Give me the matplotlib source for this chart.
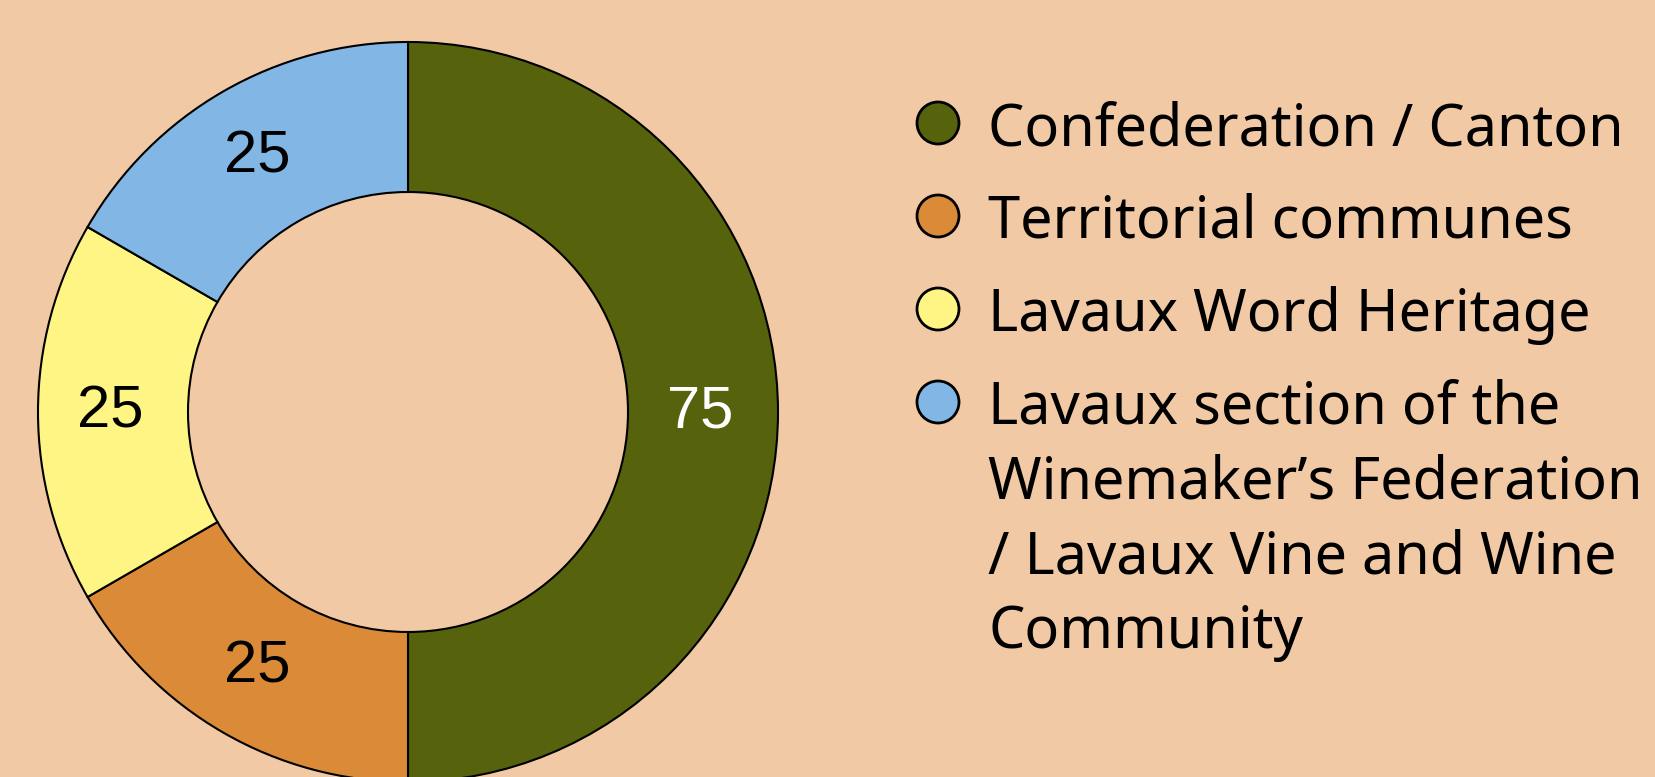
import matplotlib.pyplot as plt

# data
categories = ["Confederation / Canton",
              "Territorial communes",
              "Lavaux Word Heritage",
              "Lavaux section of the\nWinemaker\u2019s Federation\n/ Lavaux Vine and Wine\nCommunity"]
values = [75, 25, 25, 25]
colors = ["#56620c", "#db8a38", "#fff584", "#82b6e5"]
label_colors = ["white", "black", "black", "black"]
bg = "#f1c9a5"

W, H = 1655, 777
fig = plt.figure(figsize=(W / 100, H / 100), dpi=100, facecolor=bg)

# donut, placed in pixel terms (centre and outer radius)
cx, cy, R, r_in = 408, 412, 370, 220
ax = fig.add_axes([(cx - R) / W, (H - cy - R) / H, 2 * R / W, 2 * R / H])
ax.set_facecolor(bg)
wedges, texts = ax.pie(values, colors=colors, startangle=90, counterclock=False,
                       radius=1, labels=[str(v) for v in values],
                       labeldistance=(R + r_in) / 2 / R,
                       wedgeprops=dict(width=(R - r_in) / R, edgecolor="black",
                                       linewidth=1.5),
                       textprops=dict(fontsize=43, family="Liberation Sans"))
for t, c in zip(texts, label_colors):
    x, y = t.get_position()
    t.set_position((x - 3 / R, y))
    t.set_ha("center")
    t.set_va("center")
    t.set_color(c)
ax.set_xlim(-1, 1)
ax.set_ylim(-1, 1)
ax.axis("off")

# legend drawn by hand on a full-figure overlay in pixel units
lax = fig.add_axes([0, 0, 1, 1])
lax.set_xlim(0, W)
lax.set_ylim(H, 0)
lax.axis("off")
lax.patch.set_alpha(0)

mx, tx, y0, step = 938, 988, 123, 93
ys = [y0 + i * step for i in range(len(categories))]
lax.scatter([mx] * len(ys), ys, s=(42 * 0.72) ** 2, c=colors,
            edgecolors="black", linewidths=2, zorder=3)
for y, lab in zip(ys, categories):
    lax.text(tx, y - 23, lab, fontsize=41.5, family="Noto Sans", va="top",
             ha="left", linespacing=1.345)

fig.savefig("out.png", dpi=100, facecolor=bg)
